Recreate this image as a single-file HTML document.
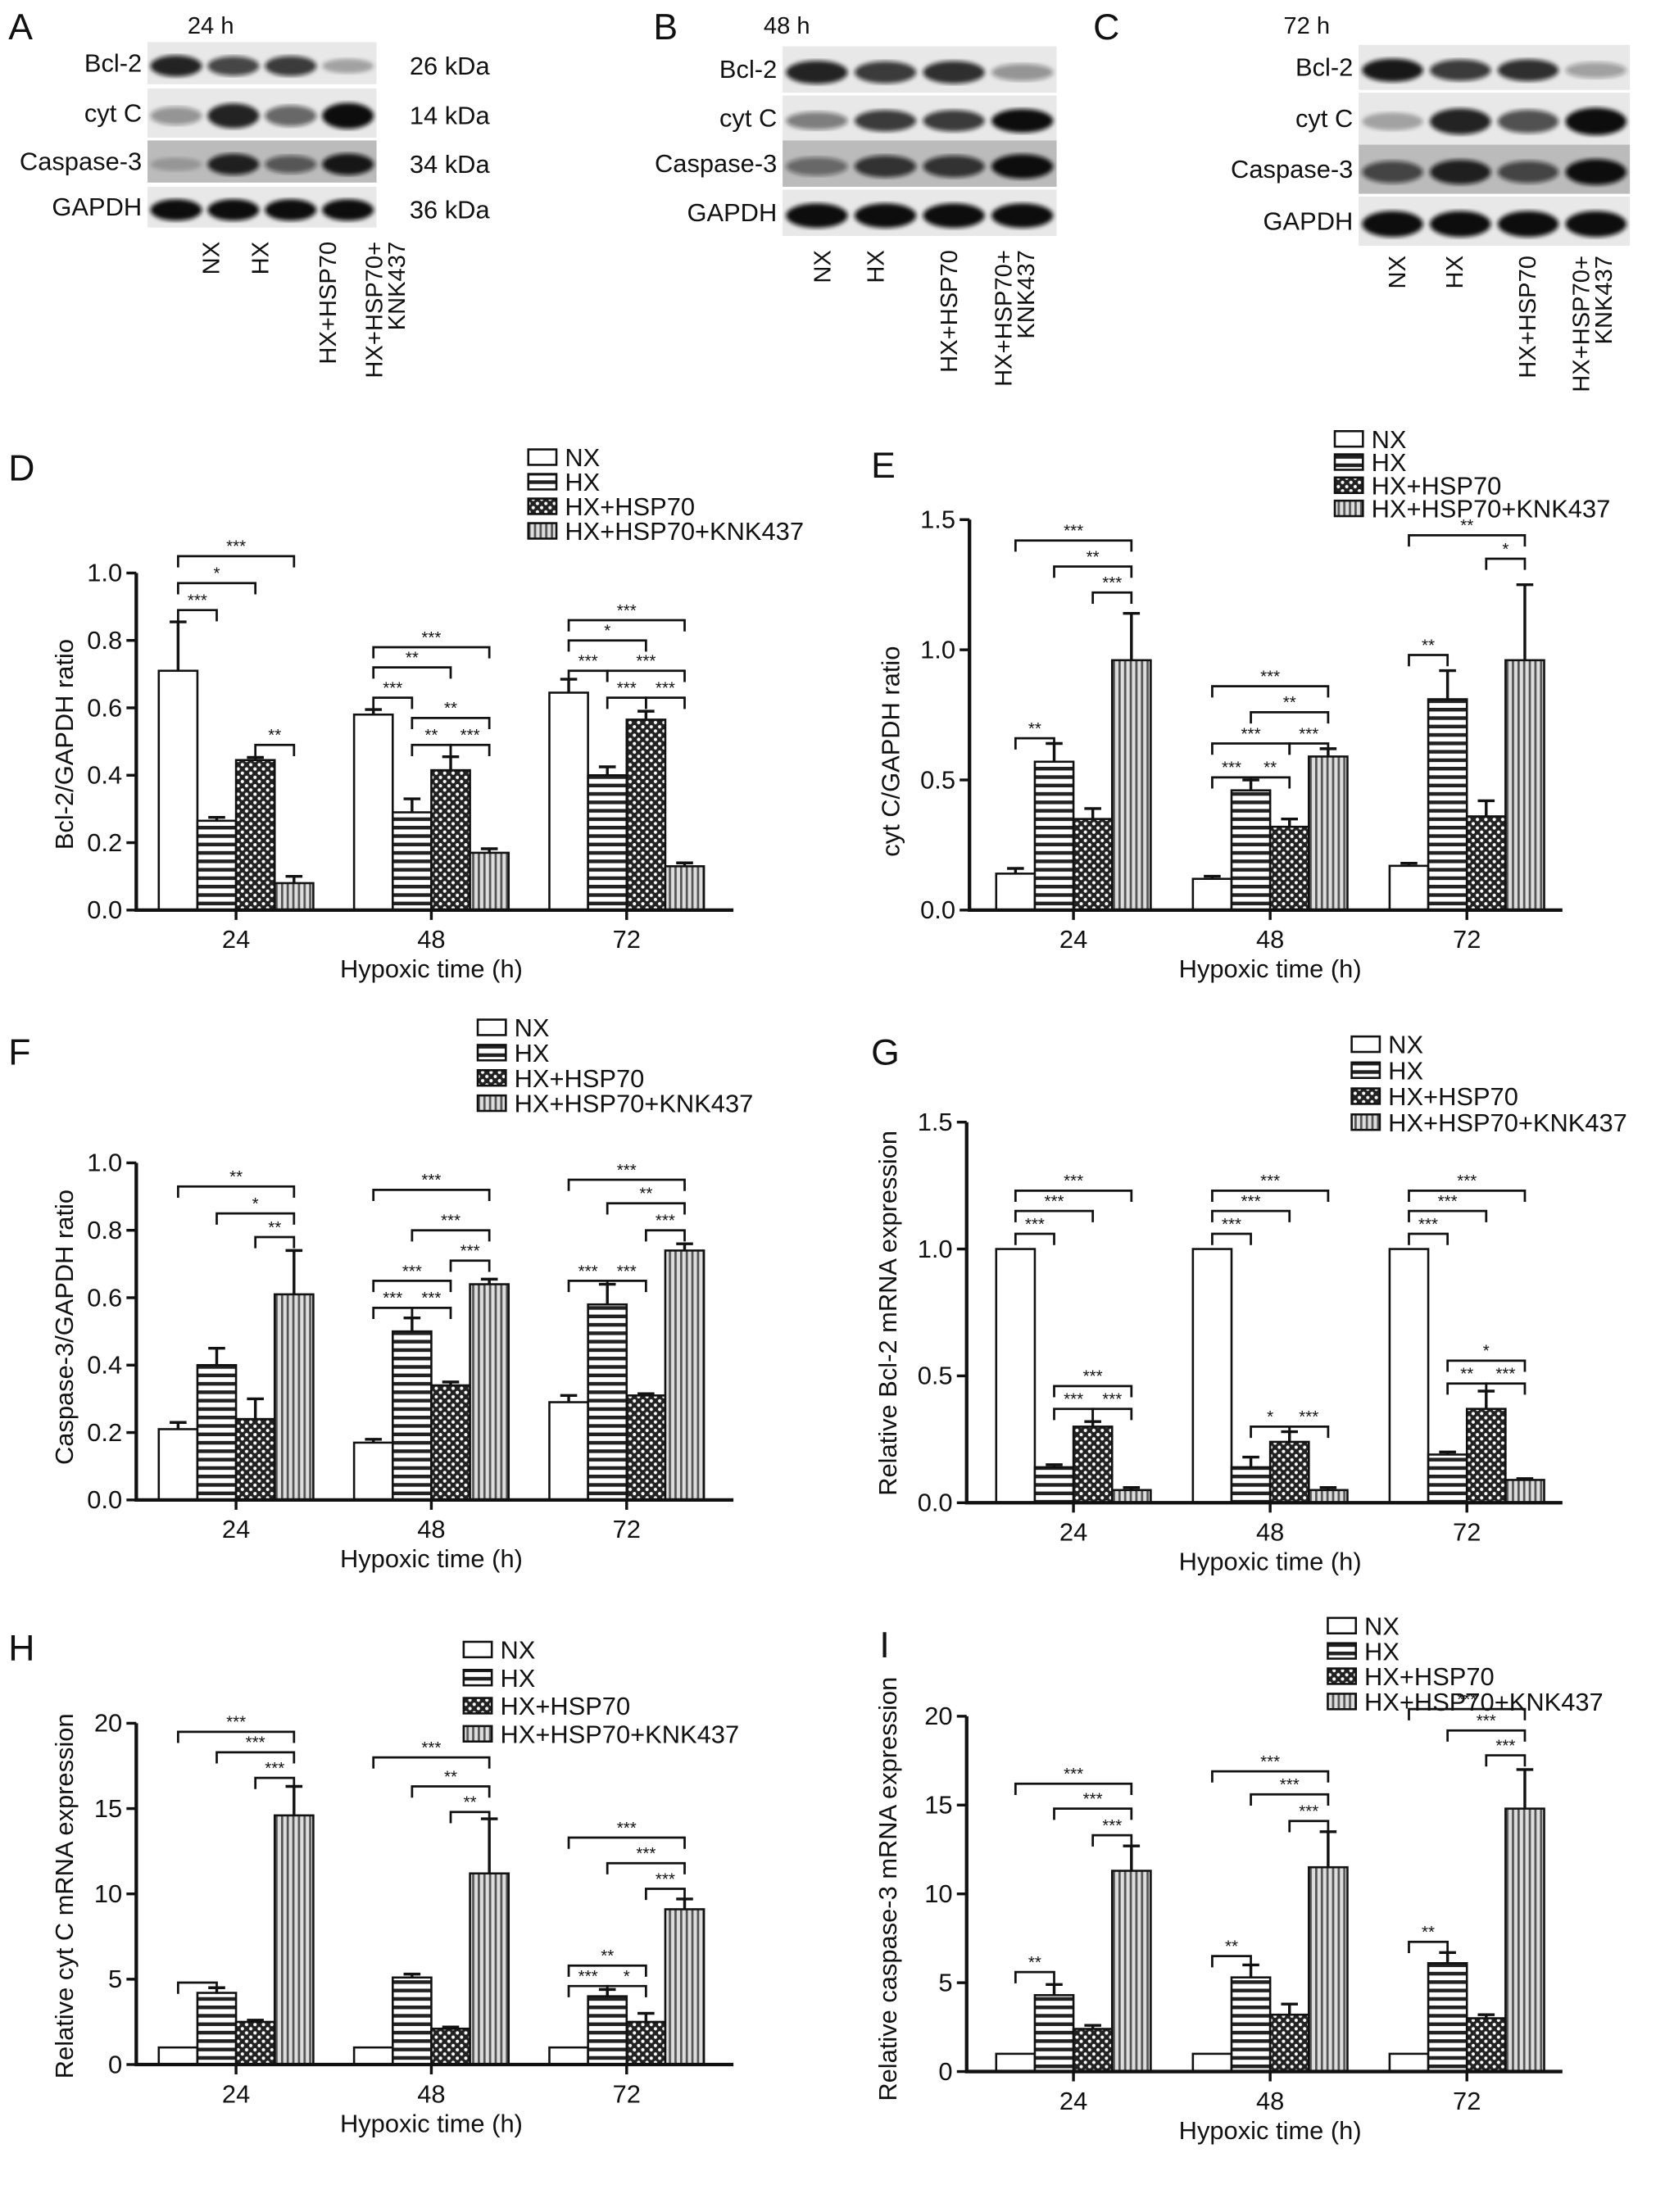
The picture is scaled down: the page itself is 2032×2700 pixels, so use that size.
<!DOCTYPE html>
<html><head><meta charset="utf-8"><style>
html,body{margin:0;padding:0;background:#fff}
svg{display:block}
text{font-family:"Liberation Sans",Arial,sans-serif;fill:#111}
</style></head><body>
<svg id="fig" width="2032" height="2700" viewBox="0 0 1185 1575" preserveAspectRatio="none" xmlns="http://www.w3.org/2000/svg">
<defs>
<pattern id="pHX" width="6" height="6" patternUnits="userSpaceOnUse"><rect width="6" height="6" fill="#fff"/><rect y="0" width="6" height="2.6" fill="#222"/></pattern>
<pattern id="pHSP" width="6" height="6" patternUnits="userSpaceOnUse"><rect width="6" height="6" fill="#222"/><circle cx="1.5" cy="1.5" r="1.2" fill="#fff"/><circle cx="4.5" cy="4.5" r="1.2" fill="#fff"/></pattern>
<pattern id="pKNK" width="4" height="4" patternUnits="userSpaceOnUse"><rect width="4" height="4" fill="#ddd"/><rect x="0" width="1.6" height="4" fill="#555"/></pattern>
<filter id="blur2"><feGaussianBlur stdDeviation="1.5"/></filter>
</defs>
<g id="blots"></g>
<g id="charts"></g>
</svg>
<script>
// ---------- chart data ----------
const categories = ["24","48","72"];
const seriesNames = ["NX","HX","HX+HSP70","HX+HSP70+KNK437"];
const dNX=[0.71,0.58,0.645], dNXe=[0.145,0.015,0.04];
const dHX=[0.265,0.29,0.40], dHXe=[0.01,0.04,0.025];
const dHSP=[0.445,0.415,0.565], dHSPe=[0.008,0.04,0.025];
const dKNK=[0.08,0.17,0.13], dKNKe=[0.02,0.012,0.01];
const eNX=[0.14,0.12,0.17], eNXe=[0.02,0.01,0.01];
const eHX=[0.57,0.46,0.81], eHXe=[0.07,0.04,0.11];
const eHSP=[0.35,0.32,0.36], eHSPe=[0.04,0.03,0.06];
const eKNK=[0.96,0.59,0.96], eKNKe=[0.18,0.03,0.29];
const fNX=[0.21,0.17,0.29], fNXe=[0.02,0.01,0.02];
const fHX=[0.40,0.50,0.58], fHXe=[0.05,0.04,0.06];
const fHSP=[0.24,0.34,0.31], fHSPe=[0.06,0.01,0.005];
const fKNK=[0.61,0.64,0.74], fKNKe=[0.13,0.015,0.02];
const gNX=[1,1,1], gNXe=[0,0,0];
const gHX=[0.14,0.14,0.19], gHXe=[0.01,0.04,0.01];
const gHSP=[0.30,0.24,0.37], gHSPe=[0.02,0.04,0.07];
const gKNK=[0.05,0.05,0.09], gKNKe=[0.01,0.01,0.005];
const hNX=[1,1,1], hNXe=[0,0,0];
const hHX=[4.2,5.1,4.0], hHXe=[0.3,0.2,0.4];
const hHSP=[2.5,2.1,2.5], hHSPe=[0.1,0.1,0.5];
const hKNK=[14.6,11.2,9.1], hKNKe=[1.7,3.2,0.6];
const iNX=[1,1,1], iNXe=[0,0,0];
const iHX=[4.3,5.3,6.1], iHXe=[0.6,0.7,0.6];
const iHSP=[2.4,3.2,3.0], iHSPe=[0.2,0.6,0.2];
const iKNK=[11.3,11.5,14.8], iKNKe=[1.4,2.0,2.2];
const ticksD=["0.0","0.2","0.4","0.6","0.8","1.0"];
const ticksE=["0.0","0.5","1.0","1.5"];
const ticksH=["0","5","10","15","20"];
// significance brackets: [group, barA, barB, level, label]
const sigD=[[0,0,1,0.89,"***"],[0,0,2,0.97,"*"],[0,0,3,1.05,"***"],[0,2,3,0.49,"**"],[1,0,1,0.63,"***"],[1,0,2,0.72,"**"],[1,0,3,0.78,"***"],[1,1,2,0.49,"**"],[1,2,3,0.49,"***"],[1,1,3,0.57,"**"],[2,0,1,0.71,"***"],[2,1,3,0.71,"***"],[2,1,2,0.63,"***"],[2,2,3,0.63,"***"],[2,0,2,0.80,"*"],[2,0,3,0.86,"***"]];
const sigE=[[0,0,1,0.66,"**"],[0,2,3,1.22,"***"],[0,1,3,1.32,"**"],[0,0,3,1.42,"***"],[1,0,1,0.51,"***"],[1,1,2,0.51,"**"],[1,0,2,0.64,"***"],[1,2,3,0.64,"***"],[1,1,3,0.76,"**"],[1,0,3,0.86,"***"],[2,0,1,0.98,"**"],[2,2,3,1.35,"*"],[2,0,3,1.44,"**"]];
const sigF=[[0,2,3,0.78,"**"],[0,1,3,0.85,"*"],[0,0,3,0.93,"**"],[1,0,1,0.57,"***"],[1,1,2,0.57,"***"],[1,0,2,0.65,"***"],[1,2,3,0.71,"***"],[1,1,3,0.80,"***"],[1,0,3,0.92,"***"],[2,0,1,0.65,"***"],[2,1,2,0.65,"***"],[2,2,3,0.80,"***"],[2,1,3,0.88,"**"],[2,0,3,0.95,"***"]];
const sigG=[[0,0,1,1.06,"***"],[0,0,2,1.15,"***"],[0,0,3,1.23,"***"],[0,1,2,0.37,"***"],[0,2,3,0.37,"***"],[0,1,3,0.46,"***"],[1,0,1,1.06,"***"],[1,0,2,1.15,"***"],[1,0,3,1.23,"***"],[1,1,2,0.30,"*"],[1,2,3,0.30,"***"],[2,0,1,1.06,"***"],[2,0,2,1.15,"***"],[2,0,3,1.23,"***"],[2,1,2,0.47,"**"],[2,2,3,0.47,"***"],[2,1,3,0.56,"*"]];
const sigH=[[0,0,1,4.8,""],[0,2,3,16.8,"***"],[0,1,3,18.3,"***"],[0,0,3,19.5,"***"],[1,2,3,14.8,"**"],[1,1,3,16.3,"**"],[1,0,3,18.0,"***"],[2,0,1,4.6,"***"],[2,1,2,4.6,"*"],[2,0,2,5.8,"**"],[2,2,3,10.3,"***"],[2,1,3,11.8,"***"],[2,0,3,13.3,"***"]];
const sigI=[[0,0,1,5.6,"**"],[0,2,3,13.3,"***"],[0,1,3,14.8,"***"],[0,0,3,16.2,"***"],[1,0,1,6.5,"**"],[1,2,3,14.1,"***"],[1,1,3,15.6,"***"],[1,0,3,16.9,"***"],[2,0,1,7.3,"**"],[2,2,3,17.8,"***"],[2,1,3,19.2,"***"],[2,0,3,20.4,"***"]];

const NS="http://www.w3.org/2000/svg";
function mk(tag,attrs,parent,txt){const e=document.createElementNS(NS,tag);for(const k in attrs)e.setAttribute(k,attrs[k]);if(txt!==undefined)e.textContent=txt;parent.appendChild(e);return e;}
const fills=["#fff","url(#pHX)","url(#pHSP)","url(#pKNK)"];
const charts=document.getElementById("charts");

function chart(o){
  const g=mk("g",{},charts);
  
  
  const ys=v=>o.y0-(v/o.ymax)*(o.y0-o.ytop);
  const w=27.5;
  const bx=(gi,bi)=>o.c0+gi*o.sp+(bi-2)*w;
  const L=mk("text",{x:o.lx,y:o.ly,"font-size":26},g,o.letter);
  
  
  o.series.forEach((s,si)=>{
    s.v.forEach((v,gi)=>{
      const x=bx(gi,si), y=ys(v), ye=ys(v+s.e[gi]);
      const r=mk("rect",{x:x,y:y,width:w,height:o.y0-y,fill:fills[si],stroke:"#111","stroke-width":1.5},g);
      
      
      if(s.e[gi]>0){
        const eb=mk("path",{d:`M${x+w/2},${y}V${ye}M${x+w/2-6},${ye}H${x+w/2+6}`,stroke:"#111","stroke-width":2,fill:"none"},g);
        
        
      }
    });
  });
  const ax=mk("path",{d:`M${o.ax},${o.ytop}V${o.y0}H${o.xend}`,stroke:"#111","stroke-width":2.5,fill:"none"},g);
  
  
  o.ticks.forEach((t,i)=>{
    const v=parseFloat(t), y=ys(v);
    mk("path",{d:`M${o.ax-7},${y}H${o.ax}`,stroke:"#111","stroke-width":2},g);
    const tt=mk("text",{x:o.ax-10,y:y+6,"font-size":18,"text-anchor":"end"},g,t);
    
    
  });
  categories.forEach((c,gi)=>{
    const x=o.c0+gi*o.sp;
    mk("path",{d:`M${x},${o.y0}V${o.y0+7}`,stroke:"#111","stroke-width":2},g);
    const tt=mk("text",{x:x,y:o.y0+27,"font-size":18,"text-anchor":"middle"},g,c);
    
    
  });
  const xt=mk("text",{x:o.c0+o.sp,y:o.y0+48,"font-size":18,"text-anchor":"middle"},g,"Hypoxic time (h)");
  
  
  const yt=mk("text",{x:0,y:0,"font-size":18,"text-anchor":"middle",transform:`translate(${o.ylx},${o.yly}) rotate(-90)`},g,o.ytitle);
  
  
  seriesNames.forEach((n,i)=>{
    const y=o.legy+i*o.legdy;
    const le=mk("g",{},g);
    
    
    mk("rect",{x:o.legx,y:y-11,width:20,height:11,fill:fills[i],stroke:"#111","stroke-width":1.5},le);
    mk("text",{x:o.legx+26,y:y+1,"font-size":18},le,n);
  });
  o.sig.forEach(s=>{
    const xa=bx(s[0],s[1])+w/2, xb=bx(s[0],s[2])+w/2, y=ys(s[3]);
    const b=mk("path",{d:`M${xa},${y+8}V${y}H${xb}V${y+8}`,stroke:"#111","stroke-width":1.6,fill:"none"},g);
    
    
    if(s[4]) mk("text",{x:(xa+xb)/2,y:y-3,"font-size":12,"text-anchor":"middle"},g,s[4]);
  });
}
const S=(a,ae,b,be,c,ce,d,de)=>[{v:a,e:ae},{v:b,e:be},{v:c,e:ce},{v:d,e:de}];
chart({letter:"D",lx:6,ly:342,ax:97,ytop:408,y0:648,ymax:1.0,xend:522,c0:168,sp:139,ticks:ticksD,ytitle:"Bcl-2/GAPDH ratio",ylx:52,yly:530,legx:376,legy:331,legdy:17.5,series:S(dNX,dNXe,dHX,dHXe,dHSP,dHSPe,dKNK,dKNKe),sig:sigD});
chart({letter:"E",lx:620,ly:340,ax:690,ytop:370,y0:648,ymax:1.5,xend:1112,c0:764,sp:140,ticks:ticksE,ytitle:"cyt C/GAPDH ratio",ylx:640,yly:535,legx:950,legy:318,legdy:16.5,series:S(eNX,eNXe,eHX,eHXe,eHSP,eHSPe,eKNK,eKNKe),sig:sigE});
chart({letter:"F",lx:6,ly:758,ax:97,ytop:828,y0:1068,ymax:1.0,xend:522,c0:168,sp:139,ticks:ticksD,ytitle:"Caspase-3/GAPDH ratio",ylx:52,yly:945,legx:340,legy:737,legdy:18,series:S(fNX,fNXe,fHX,fHXe,fHSP,fHSPe,fKNK,fKNKe),sig:sigF});
chart({letter:"G",lx:620,ly:758,ax:688,ytop:799,y0:1070,ymax:1.5,xend:1112,c0:764,sp:140,ticks:ticksE,ytitle:"Relative Bcl-2 mRNA expression",ylx:638,yly:935,legx:962,legy:749,legdy:18.5,series:S(gNX,gNXe,gHX,gHXe,gHSP,gHSPe,gKNK,gKNKe),sig:sigG});
chart({letter:"H",lx:6,ly:1182,ax:97,ytop:1227,y0:1470,ymax:20,xend:522,c0:168,sp:139,ticks:ticksH,ytitle:"Relative cyt C mRNA expression",ylx:52,yly:1350,legx:330,legy:1180,legdy:20,series:S(hNX,hNXe,hHX,hHXe,hHSP,hHSPe,hKNK,hKNKe),sig:sigH});
chart({letter:"I",lx:626,ly:1180,ax:688,ytop:1222,y0:1475,ymax:20,xend:1112,c0:764,sp:140,ticks:ticksH,ytitle:"Relative caspase-3 mRNA expression",ylx:638,yly:1345,legx:945,legy:1163,legdy:18,series:S(iNX,iNXe,iHX,iHXe,iHSP,iHSPe,iKNK,iKNKe),sig:sigI});

// ---------- western blots ----------
const blots=document.getElementById("blots");
const rowNames=["Bcl-2","cyt C","Caspase-3","GAPDH"];
const laneLabels=["NX","HX","HX+HSP70","HX+HSP70+","KNK437"];
const bandA=[[0.9,0.75,0.8,0.3],[0.4,0.9,0.6,1],[0.2,0.9,0.6,0.95],[1,1,1,1]];
const bandB=[[0.9,0.8,0.85,0.4],[0.5,0.8,0.8,1],[0.5,0.8,0.8,1],[1,1,1,1]];
const bandC=[[0.95,0.8,0.85,0.35],[0.3,0.9,0.7,1],[0.7,0.9,0.7,1],[1,1,1,1]];
function blot(o){
  const g=mk("g",{},blots);
  
  
  mk("text",{x:o.lx,y:28,"font-size":26},g,o.letter);
  mk("text",{x:o.tx,y:24,"font-size":17,"text-anchor":"middle"},g,o.title);
  o.rows.forEach((r,ri)=>{
    mk("rect",{x:o.x0,y:r[0],width:o.x1-o.x0,height:r[1]-r[0],fill:ri==2?"#bbb":"#e8e8e8"},g);
    const lanes=4, lw=(o.x1-o.x0)/lanes;
    for(let l=0;l<lanes;l++){
      const I=o.band[ri][l];
      mk("ellipse",{cx:o.x0+lw*(l+0.5),cy:(r[0]+r[1])/2+2,rx:lw*0.45,ry:(r[1]-r[0])*0.22*(0.6+I*0.6),fill:"#111","fill-opacity":I,filter:"url(#blur2)"},g);
    }
    const t=mk("text",{x:o.x0-4,y:(r[0]+r[1])/2+6,"font-size":18,"text-anchor":"end"},g,rowNames[ri]);
    
    
    if(o.kda) mk("text",{x:o.x1+52,y:(r[0]+r[1])/2+8,"font-size":18,"text-anchor":"middle"},g,o.kda[ri]);
  });
  o.lanes.forEach((lx,i)=>{
    mk("text",{x:0,y:0,"font-size":17,"text-anchor":"end",transform:`translate(${lx},${o.ly}) rotate(-90)`},g,laneLabels[i]);
  });
}
blot({letter:"A",lx:6,tx:150,title:"24 h",x0:105,x1:268,rows:[[30,60],[63,98],[100,130],[133,162]],band:bandA,kda:["26 kDa","14 kDa","34 kDa","36 kDa"],lanes:[156,191,239,272,288],ly:172});
blot({letter:"B",lx:465,tx:560,title:"48 h",x0:557,x1:752,rows:[[33,66],[68,100],[100,133],[135,168]],band:bandB,lanes:[591,629,681,720,736],ly:178});
blot({letter:"C",lx:778,tx:930,title:"72 h",x0:967,x1:1160,rows:[[32,64],[66,103],[103,138],[140,175]],band:bandC,lanes:[1000,1041,1093,1131,1147],ly:182});
</script>
</body></html>
